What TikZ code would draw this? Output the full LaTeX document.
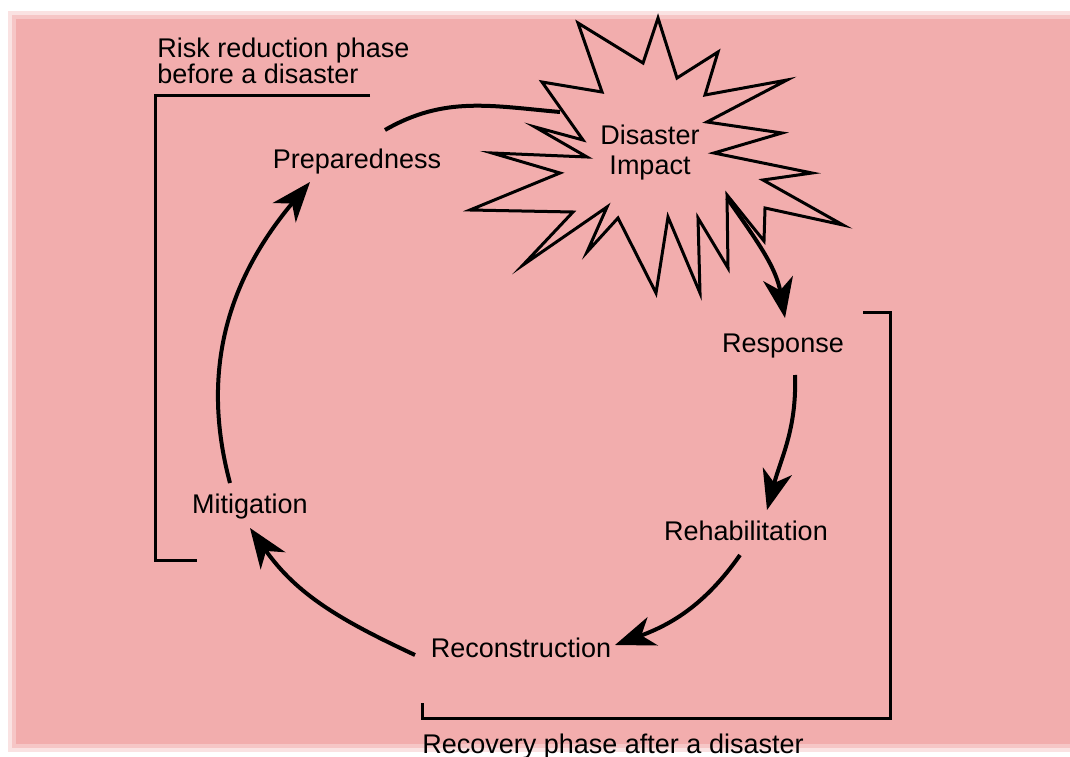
\documentclass[tikz,border=0pt]{standalone}
\usepackage{fontspec}
\setmainfont{Liberation Sans}
\usetikzlibrary{arrows.meta}
\usepackage{xcolor}
\definecolor{bgpink}{HTML}{F2ADAD}
\definecolor{ink}{HTML}{000000}
\tikzset{
  >={Stealth[length=20pt,width=15pt,inset=6pt]},
  every node/.style={font=\fontsize{13.5}{15}\selectfont,text=ink,inner sep=0pt},
  phase/.style={anchor=base},
  note/.style={align=left,font=\fontsize{13.5}{13}\selectfont},
  cycarrow/.style={->,line width=2pt,draw=ink},
  cycline/.style={line width=2pt,draw=ink},
  bracket/.style={line width=1.5pt,draw=ink},
  burst/.style={line width=1.5pt,draw=ink,line join=miter,miter limit=20},
}

\begin{document}
\begin{tikzpicture}[x=0.5pt,y=0.5pt]
\useasboundingbox (0,0) rectangle (1070,756);

% background panel with soft edge
\fill[bgpink!35] (8,4) rectangle (1070,745);
\fill[bgpink!70] (12,8) rectangle (1070,741);
\fill[bgpink] (16,12) rectangle (1070,737);

% disaster burst
\draw[burst] (578,733) -- (602,664) -- (542,674) -- (583,616) -- (535,629)
  -- (587,599) -- (492,603) -- (560,583) -- (470,546) -- (573,544)
  -- (523,491) -- (607,549) -- (587,504) -- (618,538) -- (656,463)
  -- (668,539) -- (700,463) -- (698,538) -- (728,488) -- (727,561)
  -- (764,515) -- (765,548) -- (843,531) -- (763,576) -- (812,583)
  -- (714,603) -- (782,623) -- (707,634) -- (787,676) -- (705,661)
  -- (718,704) -- (677,678) -- (658,738) -- (643,693) -- cycle;
\coordinate (hit) at (560,644);
\coordinate (burstout) at (727,558);
\node[align=center] (impact) at (650,603) {Disaster\\Impact};

% phases
\node[phase] (prep) at (357,587) {Preparedness};
\node[phase] (resp) at (783,403) {Response};
\node[phase] (rehab) at (746,216) {Rehabilitation};
\node[phase] (recon) at (521,99) {Reconstruction};
\node[phase] (mitig) at (250,243) {Mitigation};

% cycle
\draw[cycline] ([shift={(28,39)}]prep.base) to[out=30,in=175] (hit);
\draw[cycarrow] (burstout) to[out=-55,in=100] ([shift={(2,35)}]resp.base);
\draw[cycarrow] ([shift={(12,-22)}]resp.base) to[out=-88,in=75] ([shift={(21,30)}]rehab.base);
\draw[cycarrow] ([shift={(-6,-15)}]rehab.base) to[out=-125,in=20] ([shift={(94,12)}]recon.base);
\draw[cycarrow] ([shift={(-106,2)}]recon.base) to[out=155,in=-55] ([shift={(0,-15)}]mitig.base);
\draw[cycarrow] ([shift={(-20,30)}]mitig.base) to[out=105,in=230] ([shift={(-47,-13)}]prep.base);

% phase groups
\node[note,anchor=north west] (riskl) at (157,718) {Risk reduction phase\\before a disaster};
\draw[bracket] (370,660) -- (155,660) -- (155,196) -- (197,196);
\node[anchor=base west] (recovl) at (422,3) {Recovery phase after a disaster};
\draw[bracket] (863,443) -- (890,443) -- (890,38) -- (422,38) -- (422,53);

\end{tikzpicture}
\end{document}
